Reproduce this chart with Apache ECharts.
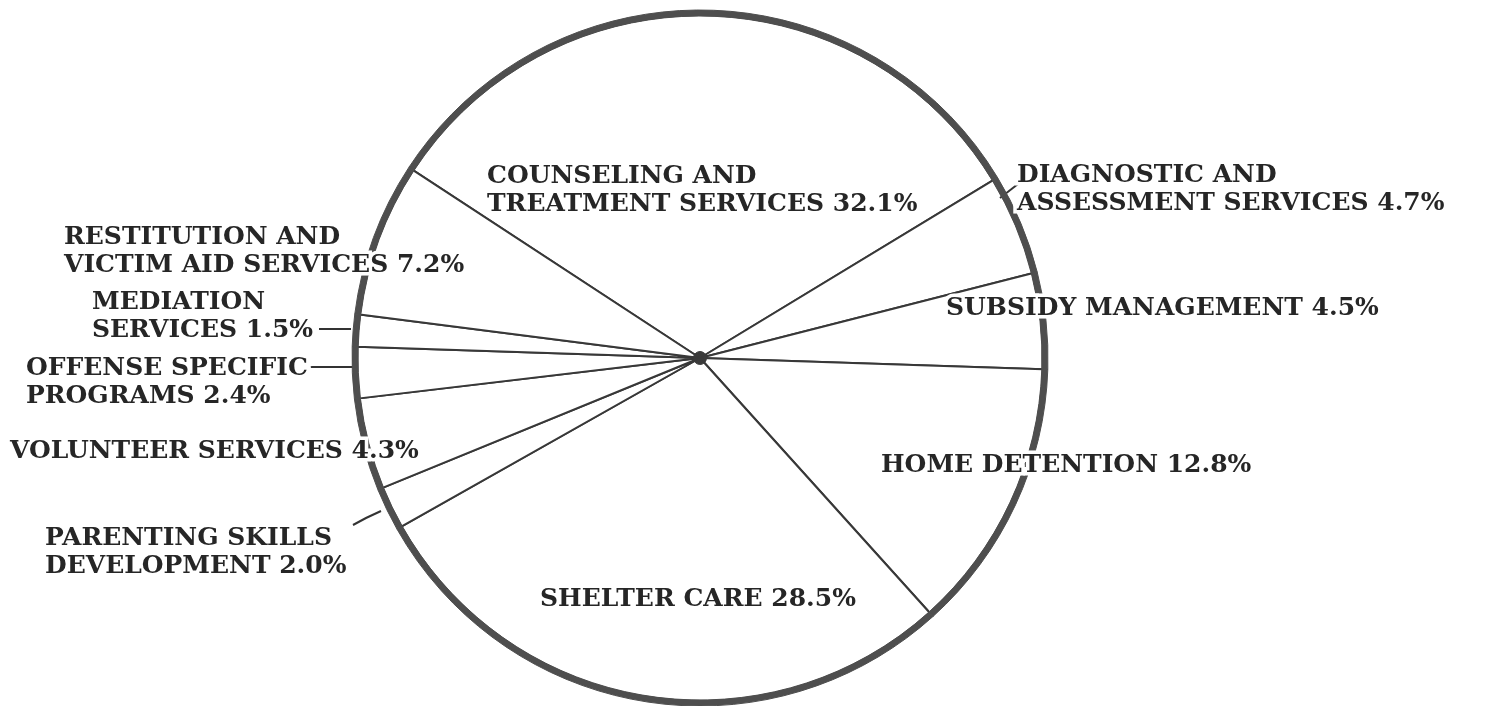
<!DOCTYPE html>
<html><head><meta charset="utf-8">
<script src="https://cdn.jsdelivr.net/npm/echarts@6/dist/echarts.min.js"></script>
<style>html,body{margin:0;padding:0;background:#fff}#c{width:1492px;height:706px}</style>
</head><body><div id="c"></div>
<script>
const categories = ['COUNSELING AND\nTREATMENT SERVICES', 'DIAGNOSTIC AND\nASSESSMENT SERVICES', 'SUBSIDY MANAGEMENT', 'HOME DETENTION', 'SHELTER CARE', 'PARENTING SKILLS\nDEVELOPMENT', 'VOLUNTEER SERVICES', 'OFFENSE SPECIFIC\nPROGRAMS', 'MEDIATION\nSERVICES', 'RESTITUTION AND\nVICTIM AID SERVICES'];
const values = [32.1, 4.7, 4.5, 12.8, 28.5, 2.0, 4.3, 2.4, 1.5, 7.2];

// label placement (top-left of each text block) and optional leader lines
const labelPos = [[487,162],[1017,161],[946,294],[881,451],[540,585],[45,524],[10,437],[26,354],[92,288],[64,223]];
const leaders = {
  1: [[1000,198],[1009,191],[1018,184]],
  5: [[353,525],[366,518],[381,511]],
  7: [[310,367],[330,367],[354,367]],
  8: [[319,329],[334,329],[351,329]]
};

const CX = 700, CY = 358, R = 346;
const plain = values.map((v, i) => ({ name: categories[i], value: v }));
const labelled = categories.map((n, i) => ({
  name: n, value: values[i],
  labelLine: { show: !!leaders[i] }
}));
const chart = echarts.init(document.getElementById('c'));
chart.setOption({
  animation: false,
  series: [
    {
      // slices with thin dividing lines
      type: 'pie', center: [CX, CY], radius: [0, R - 3], startAngle: 146.8, clockwise: true,
      silent: true, z: 1,
      label: { show: false }, labelLine: { show: false },
      itemStyle: { color: '#ffffff', borderColor: '#383838', borderWidth: 2 },
      data: plain
    },
    {
      // thick outer rim, carrying the labels
      type: 'pie', center: [CX, CY], radius: [R - 4, R + 2], startAngle: 146.8, clockwise: true,
      avoidLabelOverlap: false, silent: true, z: 2,
      itemStyle: { color: '#4e4e4e', borderColor: '#4e4e4e', borderWidth: 1 },
      label: {
        show: true, position: 'outside', color: '#262626',
        fontFamily: 'DejaVu Serif', fontWeight: 'bold', fontSize: 25, lineHeight: 28,
        align: 'left', textBorderColor: '#ffffff', textBorderWidth: 7,
        formatter: p => p.name + ' ' + p.value.toFixed(1) + '%'
      },
      labelLine: { show: false, lineStyle: { color: '#333', width: 2 } },
      labelLayout: p => {
        const i = p.dataIndex;
        const o = { x: labelPos[i][0], y: labelPos[i][1], align: 'left', verticalAlign: 'top' };
        if (leaders[i]) o.labelLinePoints = leaders[i];
        return o;
      },
      data: labelled
    },
    {
      // hub
      type: 'pie', center: [CX, CY], radius: [0, 6.5], startAngle: 146.8, silent: true, z: 3,
      label: { show: false }, labelLine: { show: false },
      itemStyle: { color: '#3a3a3a', borderColor: '#3a3a3a', borderWidth: 1 },
      data: plain
    }
  ]
});
</script></body></html>
